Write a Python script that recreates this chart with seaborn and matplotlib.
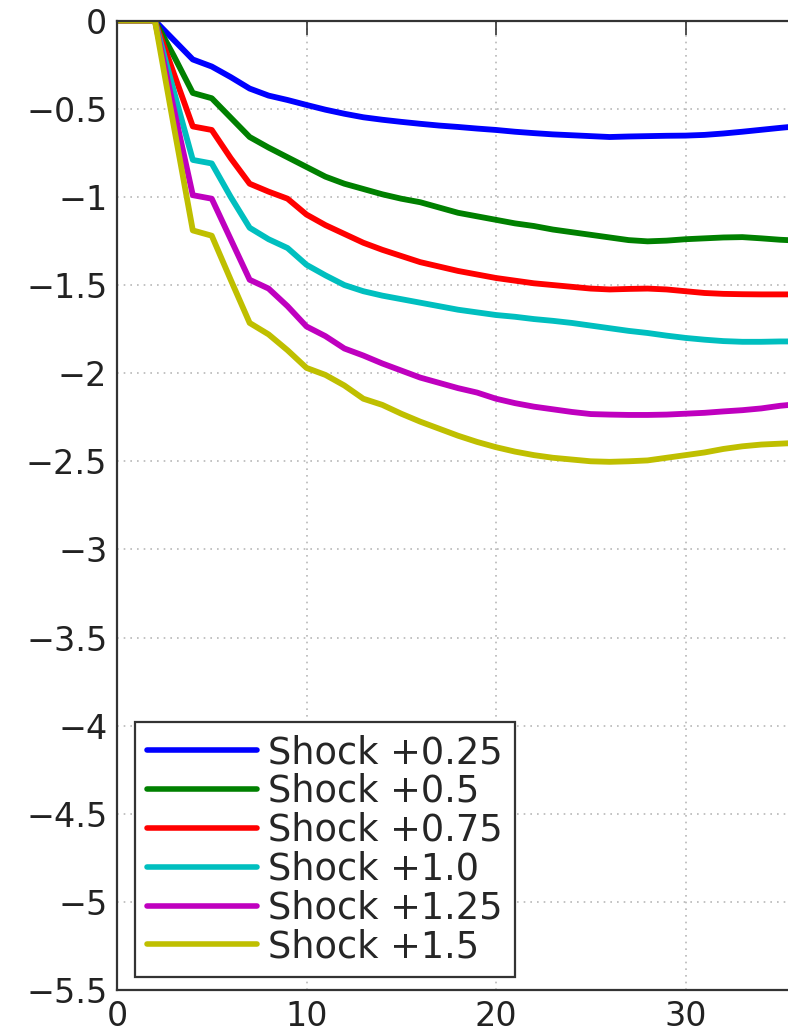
import numpy as np
import pandas as pd
import matplotlib
matplotlib.use("Agg")
import matplotlib.pyplot as plt
import seaborn as sns

# ---- data ----
horizon = list(range(0, 37))
labels = ["Shock +0.25", "Shock +0.5", "Shock +0.75", "Shock +1.0", "Shock +1.25", "Shock +1.5"]

shock_025 = [0, 0, 0, -0.11, -0.22, -0.26, -0.32, -0.385, -0.425, -0.45, -0.478, -0.505, -0.528,
             -0.548, -0.562, -0.574, -0.585, -0.595, -0.603, -0.612, -0.62, -0.63, -0.638, -0.645,
             -0.65, -0.655, -0.66, -0.657, -0.655, -0.653, -0.652, -0.648, -0.64, -0.63, -0.619,
             -0.608, -0.598]
shock_050 = [0, 0, 0, -0.2, -0.41, -0.44, -0.55, -0.66, -0.72, -0.775, -0.83, -0.885, -0.925,
             -0.955, -0.985, -1.01, -1.03, -1.06, -1.09, -1.11, -1.13, -1.15, -1.165, -1.185,
             -1.2, -1.215, -1.23, -1.245, -1.252, -1.248, -1.24, -1.235, -1.23, -1.228, -1.235,
             -1.243, -1.248]
shock_075 = [0, 0, 0, -0.3, -0.6, -0.62, -0.78, -0.925, -0.97, -1.01, -1.1, -1.16, -1.21,
             -1.26, -1.3, -1.335, -1.37, -1.395, -1.42, -1.44, -1.46, -1.475, -1.49, -1.5,
             -1.51, -1.52, -1.525, -1.522, -1.52, -1.525, -1.535, -1.545, -1.55, -1.552, -1.553,
             -1.553, -1.553]
shock_100 = [0, 0, 0, -0.4, -0.79, -0.81, -1.0, -1.175, -1.24, -1.29, -1.385, -1.445, -1.5,
             -1.535, -1.56, -1.58, -1.6, -1.62, -1.64, -1.655, -1.67, -1.68, -1.693, -1.703,
             -1.715, -1.73, -1.745, -1.76, -1.772, -1.787, -1.8, -1.81, -1.818, -1.822, -1.822,
             -1.82, -1.82]
shock_125 = [0, 0, 0, -0.5, -0.99, -1.01, -1.24, -1.47, -1.52, -1.62, -1.735, -1.79, -1.86,
             -1.9, -1.945, -1.985, -2.025, -2.055, -2.085, -2.11, -2.145, -2.17, -2.19, -2.205,
             -2.22, -2.232, -2.235, -2.237, -2.237, -2.235, -2.23, -2.225, -2.217, -2.21, -2.2,
             -2.185, -2.175]
shock_150 = [0, 0, 0, -0.6, -1.19, -1.22, -1.47, -1.715, -1.78, -1.87, -1.97, -2.01, -2.07,
             -2.145, -2.18, -2.23, -2.275, -2.315, -2.355, -2.39, -2.42, -2.445, -2.465, -2.48,
             -2.49, -2.5, -2.503, -2.5, -2.495, -2.48, -2.465, -2.45, -2.43, -2.415, -2.405,
             -2.4, -2.395]

series = [shock_025, shock_050, shock_075, shock_100, shock_125, shock_150]
colors = ["#0000ff", "#008000", "#ff0000", "#00bfbf", "#bf00bf", "#bfbf00"]

yticks = [0, -0.5, -1, -1.5, -2, -2.5, -3, -3.5, -4, -4.5, -5, -5.5]
ytick_labels = ["0", "\u22120.5", "\u22121", "\u22121.5", "\u22122", "\u22122.5", "\u22123",
                "\u22123.5", "\u22124", "\u22124.5", "\u22125", "\u22125.5"]
xticks = [0, 10, 20, 30]
xtick_labels = ["0", "10", "20", "30"]

df = pd.DataFrame({
    "h": horizon * len(labels),
    "value": [v for s in series for v in s],
    "shock": [lab for lab in labels for _ in horizon],
})

sns.set_style("white")
plt.rcParams["font.family"] = ["DejaVu Sans"]

W, H = 788, 1033
fig = plt.figure(figsize=(W / 100, H / 100), dpi=100)
left_px, top_px, bottom_px = 117, 20.7, 990
unit_px = 18.95
ax = fig.add_axes([left_px / W, 1 - bottom_px / H, 40 * unit_px / W, (bottom_px - top_px) / H])

sns.lineplot(data=df, x="h", y="value", hue="shock", hue_order=labels,
             palette=dict(zip(labels, colors)), linewidth=4.2, ax=ax, legend=True)

ax.set_xlim(0, 40)
ax.set_ylim(-5.5, 0)
ax.set_xticks(xticks)
ax.set_xticklabels(xtick_labels)
ax.set_yticks(yticks)
ax.set_yticklabels(ytick_labels)
ax.set_xlabel("")
ax.set_ylabel("")
ax.grid(True, color="#b8b8b8", linestyle=(0, (1, 3)), linewidth=1.2)
for sp in ax.spines.values():
    sp.set_visible(True)
    sp.set_color("#333333")
    sp.set_linewidth(1.6)
ax.tick_params(direction="in", length=10, width=1.2, colors="#333333", labelcolor="#222222",
               labelsize=24, top=True, right=True, pad=7)

leg = ax.legend(loc="lower left", bbox_to_anchor=(0.0237, 0.0134), borderaxespad=0,
                fontsize=26.5, handlelength=3.0, handletextpad=0.3, labelspacing=0.05,
                borderpad=0.32, frameon=True, fancybox=False, framealpha=1)
leg.get_frame().set_edgecolor("#333333")
leg.get_frame().set_linewidth(1.6)
for line in leg.get_lines():
    line.set_linewidth(4.0)

fig.savefig("out.png", dpi=100)
